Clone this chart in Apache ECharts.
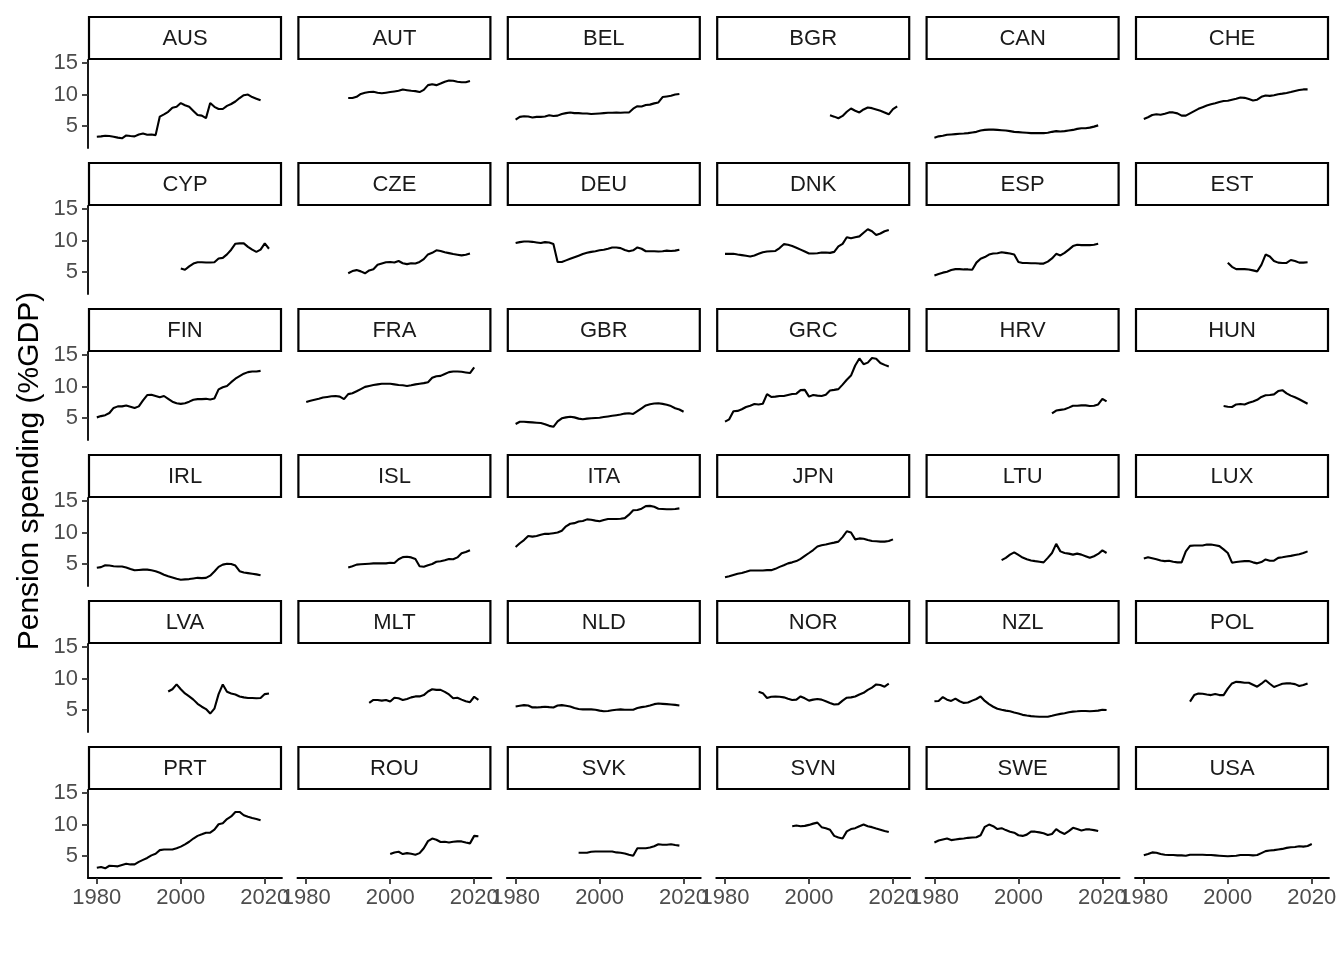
<!DOCTYPE html>
<html>
<head>
<meta charset="utf-8">
<script src="https://cdn.jsdelivr.net/npm/echarts@6/dist/echarts.min.js"></script>
<style>
html,body{margin:0;padding:0;background:#fff;}
#chart{width:1344px;height:960px;}
</style>
</head>
<body>
<div id="chart"></div>
<script>
// ---- data ----
const countries = ['AUS','AUT','BEL','BGR','CAN','CHE','CYP','CZE','DEU','DNK','ESP','EST','FIN','FRA','GBR','GRC','HRV','HUN','IRL','ISL','ITA','JPN','LTU','LUX','LVA','MLT','NLD','NOR','NZL','POL','PRT','ROU','SVK','SVN','SWE','USA'];
const startYears = [1980,1990,1980,2005,1980,1980, 2000,1990,1980,1980,1980,2000, 1980,1980,1980,1980,2008,1999, 1980,1990,1980,1980,1996,1980, 1997,1995,1980,1988,1980,1991, 1980,2000,1995,1996,1980,1980];
const xTicks = [1980, 2000, 2020];
const yTicks = [5, 10, 15];
const yTitle = 'Pension spending (%GDP)';

const AUS = [3.3,3.35,3.45,3.4,3.3,3.15,3.05,3.5,3.4,3.35,3.65,3.8,3.6,3.65,3.55,6.5,6.85,7.25,7.9,8.05,8.65,8.3,8.05,7.4,6.75,6.65,6.25,8.65,8.05,7.7,7.7,8.2,8.5,8.9,9.45,9.9,10.0,9.6,9.35,9.1];
const AUT = [9.45,9.45,9.65,10.1,10.3,10.4,10.45,10.3,10.2,10.3,10.4,10.5,10.6,10.8,10.7,10.6,10.55,10.4,10.75,11.5,11.65,11.5,11.75,12.05,12.25,12.2,12.05,11.95,11.95,12.15];
const BEL = [6.0,6.45,6.55,6.5,6.35,6.45,6.45,6.5,6.7,6.6,6.65,6.9,7.05,7.15,7.05,7.05,7.0,7.0,6.9,6.95,7.0,7.05,7.1,7.1,7.15,7.1,7.15,7.15,7.75,8.15,8.1,8.35,8.4,8.6,8.75,9.6,9.7,9.8,10.0,10.1];
const BGR = [6.70,6.49,6.24,6.60,7.27,7.78,7.42,7.16,7.63,7.94,7.84,7.63,7.42,7.16,6.86,7.68,8.14];
const CAN = [3.14,3.35,3.45,3.61,3.66,3.71,3.76,3.81,3.87,3.97,4.07,4.28,4.38,4.43,4.43,4.38,4.33,4.28,4.18,4.07,4.02,3.97,3.92,3.87,3.87,3.87,3.87,3.92,4.07,4.18,4.12,4.18,4.28,4.38,4.54,4.64,4.64,4.74,4.9,5.1];
const CHE = [6.13,6.39,6.75,6.86,6.80,6.96,7.16,7.16,7.01,6.65,6.65,7.01,7.37,7.73,7.99,8.25,8.45,8.61,8.81,8.97,9.02,9.18,9.33,9.54,9.48,9.28,9.07,9.18,9.64,9.85,9.79,9.90,10.05,10.15,10.26,10.41,10.57,10.72,10.82,10.82];
const CYP = [5.55,5.35,5.9,6.35,6.55,6.55,6.5,6.5,6.55,7.15,7.25,7.8,8.55,9.5,9.55,9.55,9.0,8.55,8.2,8.55,9.55,8.7];
const CZE = [4.8,5.15,5.3,5.1,4.8,5.25,5.45,6.15,6.35,6.55,6.6,6.5,6.75,6.4,6.25,6.4,6.35,6.6,7.05,7.8,8.05,8.45,8.35,8.15,8.0,7.85,7.75,7.65,7.75,7.95];
const DEU = [9.6,9.75,9.85,9.85,9.8,9.7,9.6,9.75,9.7,9.45,6.6,6.6,6.85,7.1,7.35,7.6,7.85,8.05,8.2,8.3,8.45,8.55,8.7,8.9,8.9,8.8,8.5,8.3,8.45,8.9,8.7,8.3,8.3,8.3,8.25,8.3,8.4,8.35,8.4,8.55];
const DNK = [7.89,7.89,7.89,7.78,7.68,7.58,7.47,7.63,7.89,8.14,8.25,8.30,8.35,8.81,9.43,9.33,9.12,8.87,8.56,8.25,7.94,7.94,7.99,8.09,8.09,8.04,8.20,9.07,9.48,10.52,10.36,10.52,10.67,11.24,11.80,11.49,10.88,11.13,11.49,11.70];
const ESP = [4.43,4.69,4.90,5.05,5.31,5.46,5.46,5.41,5.41,5.36,6.49,7.11,7.37,7.78,7.94,7.99,8.14,8.04,7.94,7.78,6.60,6.44,6.44,6.39,6.39,6.34,6.34,6.65,7.16,7.89,7.63,8.04,8.56,9.12,9.33,9.28,9.28,9.28,9.33,9.48];
const EST = [6.49,5.82,5.46,5.46,5.46,5.41,5.26,5.10,6.13,7.78,7.47,6.75,6.49,6.44,6.44,6.91,6.75,6.49,6.49,6.55];
const FIN = [5.1,5.3,5.45,5.8,6.6,6.85,6.85,7.0,6.8,6.6,6.85,7.8,8.65,8.7,8.5,8.3,8.5,8.05,7.6,7.35,7.25,7.35,7.6,7.9,8.0,8.0,8.05,7.95,8.1,9.55,9.9,10.1,10.7,11.25,11.65,12.05,12.3,12.4,12.4,12.5];
const FRA = [7.55,7.75,7.9,8.05,8.25,8.35,8.45,8.5,8.4,8.0,8.8,8.95,9.25,9.6,9.95,10.1,10.25,10.35,10.45,10.45,10.45,10.35,10.25,10.2,10.1,10.2,10.35,10.45,10.55,10.7,11.4,11.65,11.7,12.0,12.3,12.4,12.4,12.35,12.25,12.15,13.05];
const GBR = [4.05,4.4,4.4,4.35,4.3,4.25,4.2,4.0,3.75,3.6,4.45,4.95,5.1,5.2,5.1,4.9,4.8,4.9,4.95,5.0,5.05,5.15,5.25,5.35,5.45,5.55,5.7,5.75,5.65,6.1,6.55,7.0,7.2,7.3,7.35,7.25,7.1,6.9,6.55,6.35,6.0];
const GRC = [4.43,4.79,6.08,6.13,6.39,6.75,6.96,7.22,7.16,7.27,8.81,8.35,8.40,8.51,8.51,8.66,8.81,8.87,9.43,9.48,8.40,8.66,8.56,8.51,8.71,9.38,9.48,9.59,10.31,11.08,11.75,13.35,14.48,13.56,13.81,14.54,14.43,13.76,13.45,13.20];
const HRV = [5.72,6.19,6.29,6.39,6.65,6.96,6.96,7.01,7.01,6.91,6.96,7.16,8.04,7.63];
const HUN = [6.91,6.80,6.75,7.16,7.22,7.16,7.42,7.63,7.89,8.35,8.61,8.66,8.76,9.28,9.43,8.92,8.56,8.30,7.99,7.63,7.27];
const IRL = [4.4,4.5,4.8,4.75,4.65,4.6,4.6,4.45,4.2,4.0,4.05,4.1,4.1,4.0,3.85,3.6,3.3,3.05,2.85,2.65,2.5,2.55,2.6,2.7,2.8,2.75,2.8,3.15,3.8,4.55,4.9,5.05,5.0,4.75,3.85,3.65,3.55,3.45,3.35,3.2];
const ISL = [4.45,4.65,4.9,4.95,5.0,5.05,5.1,5.1,5.1,5.1,5.2,5.15,5.75,6.1,6.15,6.05,5.8,4.65,4.55,4.8,5.0,5.35,5.45,5.6,5.8,5.75,6.05,6.7,6.9,7.2];
const ITA = [7.7,8.3,8.8,9.45,9.35,9.45,9.65,9.8,9.8,9.9,10.0,10.3,11.0,11.4,11.5,11.75,11.85,12.1,12.05,11.9,11.8,12.0,12.15,12.15,12.15,12.2,12.3,12.85,13.55,13.6,13.8,14.2,14.25,14.1,13.8,13.75,13.7,13.7,13.75,13.85];
const JPN = [2.89,3.04,3.25,3.45,3.56,3.76,3.97,3.97,3.97,3.97,4.02,4.02,4.23,4.54,4.79,5.10,5.26,5.46,5.82,6.29,6.75,7.22,7.78,7.99,8.09,8.25,8.40,8.56,9.28,10.21,10.0,8.92,9.07,9.02,8.81,8.66,8.61,8.56,8.56,8.66,8.92];
const LTU = [5.62,5.98,6.49,6.86,6.44,6.03,5.77,5.57,5.46,5.36,5.26,5.98,6.75,8.20,7.01,6.75,6.65,6.49,6.65,6.49,6.24,5.98,6.24,6.60,7.16,6.75];
const LUX = [5.88,6.08,5.93,5.77,5.57,5.46,5.52,5.36,5.26,5.26,7.01,7.89,7.94,7.94,7.94,8.09,8.09,7.99,7.84,7.32,6.75,5.21,5.31,5.41,5.46,5.46,5.26,5.10,5.31,5.72,5.52,5.52,5.98,6.08,6.19,6.29,6.44,6.55,6.75,7.01];
const LVA = [7.94,8.30,9.07,8.30,7.63,7.16,6.65,5.98,5.52,5.15,4.43,5.21,7.53,9.07,7.89,7.63,7.47,7.16,7.01,6.91,6.91,6.86,6.91,7.53,7.63];
const MLT = [6.13,6.60,6.60,6.49,6.60,6.34,6.96,6.86,6.60,6.75,7.01,7.16,7.16,7.37,7.94,8.30,8.20,8.20,7.89,7.47,6.86,6.96,6.65,6.39,6.24,7.11,6.60];
const NLD = [5.57,5.67,5.77,5.72,5.41,5.41,5.46,5.52,5.46,5.41,5.72,5.77,5.67,5.57,5.31,5.15,5.10,5.10,5.10,5.05,4.90,4.79,4.85,4.95,5.05,5.10,5.05,5.05,5.05,5.31,5.46,5.57,5.72,5.93,6.03,5.98,5.93,5.88,5.82,5.72];
const NOR = [7.89,7.68,6.91,7.11,7.16,7.11,7.01,6.80,6.60,6.65,7.16,6.86,6.49,6.65,6.75,6.65,6.39,6.13,5.88,5.93,6.49,6.96,7.01,7.16,7.47,7.73,8.20,8.56,9.07,8.97,8.71,9.18];
const NZL = [6.39,6.44,7.06,6.65,6.44,6.80,6.39,6.13,6.19,6.49,6.75,7.16,6.44,5.93,5.52,5.21,5.05,4.90,4.79,4.59,4.43,4.23,4.12,4.02,3.97,3.92,3.92,3.92,4.07,4.23,4.38,4.48,4.64,4.74,4.79,4.85,4.85,4.79,4.85,4.90,5.05,5.0];
const POL = [6.34,7.37,7.63,7.58,7.47,7.37,7.53,7.37,7.37,8.40,9.23,9.48,9.43,9.33,9.33,9.02,8.71,9.18,9.74,9.18,8.66,8.92,9.18,9.23,9.23,9.12,8.81,8.97,9.23];
const PRT = [3.14,3.25,3.04,3.45,3.40,3.35,3.56,3.76,3.66,3.66,4.07,4.38,4.69,5.10,5.36,5.93,6.03,6.03,6.03,6.24,6.49,6.86,7.27,7.78,8.20,8.45,8.71,8.71,9.18,10.05,10.21,10.88,11.29,12.01,12.01,11.49,11.24,11.03,10.88,10.67];
const ROU = [5.31,5.57,5.67,5.31,5.46,5.36,5.21,5.46,6.24,7.37,7.78,7.58,7.22,7.27,7.16,7.27,7.32,7.32,7.16,7.01,8.20,8.14];
const SVK = [5.52,5.52,5.52,5.67,5.72,5.72,5.72,5.72,5.72,5.57,5.52,5.41,5.21,5.05,6.24,6.24,6.24,6.34,6.55,6.86,6.80,6.80,6.86,6.75,6.65];
const SVN = [9.74,9.85,9.74,9.79,9.95,10.15,10.31,9.59,9.43,9.18,8.20,7.94,7.78,8.92,9.28,9.43,9.74,10.0,9.74,9.59,9.38,9.18,8.97,8.81];
const SWE = [7.16,7.47,7.63,7.78,7.53,7.63,7.73,7.78,7.89,7.94,7.99,8.30,9.64,10.0,9.74,9.28,9.43,9.12,8.87,8.71,8.30,8.20,8.40,8.87,8.87,8.76,8.61,8.35,8.51,9.28,8.81,8.51,8.97,9.48,9.28,9.07,9.23,9.23,9.12,8.97];
const USA = [5.10,5.31,5.57,5.52,5.31,5.21,5.15,5.15,5.10,5.10,5.05,5.21,5.21,5.21,5.21,5.15,5.15,5.10,5.05,5.0,4.95,5.0,5.05,5.15,5.15,5.15,5.10,5.15,5.46,5.77,5.88,5.93,6.03,6.13,6.29,6.39,6.44,6.55,6.49,6.60,6.91];

const seriesValues = [AUS,AUT,BEL,BGR,CAN,CHE,CYP,CZE,DEU,DNK,ESP,EST,FIN,FRA,GBR,GRC,HRV,HUN,IRL,ISL,ITA,JPN,LTU,LUX,LVA,MLT,NLD,NOR,NZL,POL,PRT,ROU,SVK,SVN,SWE,USA];

// ---- layout ----
const NCOL = 6, NROW = 6;
const PLOT_LEFT = 88, COL_STEP = 209.4, PANEL_W = 194;
const STRIP_TOP = 16, STRIP_H = 44, ROW_STEP = 146, PANEL_H = 88;
const FONT = 'Liberation Sans, Arial, Helvetica, sans-serif';

const grids = [], xAxes = [], yAxes = [], series = [], graphics = [];

countries.forEach((name, i) => {
  const c = i % NCOL, r = Math.floor(i / NCOL);
  const left = PLOT_LEFT + c * COL_STEP;
  const stripTop = STRIP_TOP + r * ROW_STEP;
  const top = stripTop + STRIP_H;
  grids.push({left: left, top: top, width: PANEL_W, height: PANEL_H, containLabel: false});
  const bottomRow = r === NROW - 1;
  const leftCol = c === 0;
  xAxes.push({
    type: 'value', gridIndex: i, min: 1977.9, max: 2024.1,
    splitLine: {show: false},
    axisLine: {show: bottomRow, onZero: false, lineStyle: {color: '#000', width: 1.8}},
    axisTick: {show: bottomRow, customValues: xTicks, length: 6, lineStyle: {color: '#333', width: 1.8}},
    axisLabel: {show: bottomRow, customValues: xTicks, fontSize: 22, fontFamily: FONT, color: '#4d4d4d', margin: 9, formatter: v => String(v)}
  });
  yAxes.push({
    type: 'value', gridIndex: i, min: 1.5, max: 15.5,
    splitLine: {show: false},
    axisLine: {show: leftCol, onZero: false, lineStyle: {color: '#000', width: 1.8}},
    axisTick: {show: leftCol, customValues: yTicks, length: 6, lineStyle: {color: '#333', width: 1.8}},
    axisLabel: {show: leftCol, customValues: yTicks, fontSize: 22, fontFamily: FONT, color: '#4d4d4d', margin: 10}
  });
  const vals = seriesValues[i];
  const start = startYears[i];
  series.push({
    type: 'line', xAxisIndex: i, yAxisIndex: i,
    data: vals.map((v, k) => [start + k, v]),
    showSymbol: false, symbol: 'none', silent: true, animation: false,
    lineStyle: {color: '#000', width: 2.1}
  });
  graphics.push({
    type: 'rect', silent: true,
    shape: {x: left + 1, y: stripTop + 1, width: PANEL_W - 2, height: STRIP_H - 2},
    style: {fill: '#fff', stroke: '#000', lineWidth: 2.2}
  });
  graphics.push({
    type: 'text', silent: true,
    x: left + PANEL_W / 2, y: stripTop + STRIP_H / 2 + 1,
    style: {text: name, fontSize: 22, fontFamily: FONT, fill: '#1a1a1a', align: 'center', verticalAlign: 'middle'}
  });
});

graphics.push({
  type: 'text', silent: true, x: 30, y: 471, rotation: Math.PI / 2,
  style: {text: yTitle, fontSize: 30, fontFamily: FONT, fill: '#000', align: 'center', verticalAlign: 'middle'}
});

const chart = echarts.init(document.getElementById('chart'), null, {renderer: 'canvas'});
chart.setOption({
  backgroundColor: '#fff',
  animation: false,
  grid: grids,
  xAxis: xAxes,
  yAxis: yAxes,
  series: series,
  graphic: graphics
});
</script>
</body>
</html>
